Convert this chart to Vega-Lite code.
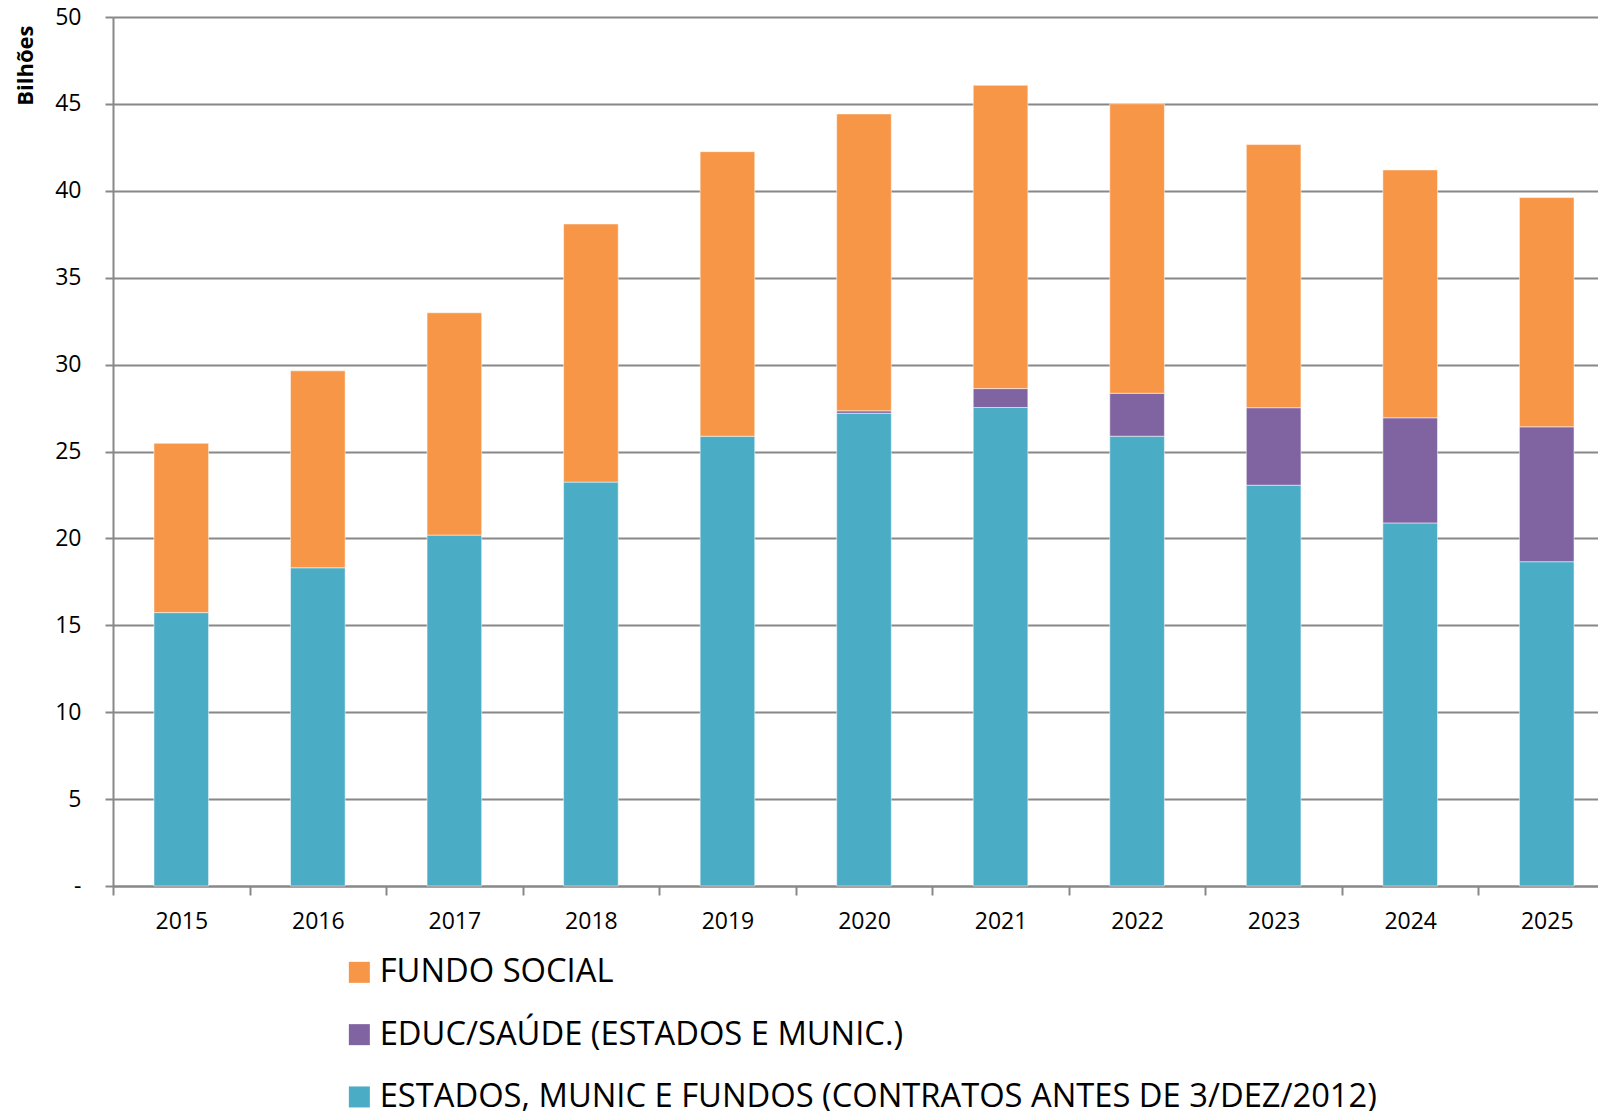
{
  "$schema": "https://vega.github.io/schema/vega-lite/v6.json",
  "autosize": "none",
  "padding": {"left": 113, "top": 17, "right": 0, "bottom": 225},
  "width": 1502,
  "height": 869,
  "background": "white",
  "config": {
    "font": "Open Sans",
    "view": {"stroke": null}
  },
  "data": {
    "values": [
      {"ano": "2015", "serie": "ESTADOS, MUNIC E FUNDOS (CONTRATOS ANTES DE 3/DEZ/2012)", "ord": 1, "valor": 15.73},
      {"ano": "2015", "serie": "FUNDO SOCIAL", "ord": 3, "valor": 9.74},
      {"ano": "2016", "serie": "ESTADOS, MUNIC E FUNDOS (CONTRATOS ANTES DE 3/DEZ/2012)", "ord": 1, "valor": 18.31},
      {"ano": "2016", "serie": "FUNDO SOCIAL", "ord": 3, "valor": 11.33},
      {"ano": "2017", "serie": "ESTADOS, MUNIC E FUNDOS (CONTRATOS ANTES DE 3/DEZ/2012)", "ord": 1, "valor": 20.19},
      {"ano": "2017", "serie": "FUNDO SOCIAL", "ord": 3, "valor": 12.79},
      {"ano": "2018", "serie": "ESTADOS, MUNIC E FUNDOS (CONTRATOS ANTES DE 3/DEZ/2012)", "ord": 1, "valor": 23.24},
      {"ano": "2018", "serie": "FUNDO SOCIAL", "ord": 3, "valor": 14.85},
      {"ano": "2019", "serie": "ESTADOS, MUNIC E FUNDOS (CONTRATOS ANTES DE 3/DEZ/2012)", "ord": 1, "valor": 25.88},
      {"ano": "2019", "serie": "FUNDO SOCIAL", "ord": 3, "valor": 16.37},
      {"ano": "2020", "serie": "ESTADOS, MUNIC E FUNDOS (CONTRATOS ANTES DE 3/DEZ/2012)", "ord": 1, "valor": 27.2},
      {"ano": "2020", "serie": "EDUC/SAÚDE (ESTADOS E MUNIC.)", "ord": 2, "valor": 0.14},
      {"ano": "2020", "serie": "FUNDO SOCIAL", "ord": 3, "valor": 17.08},
      {"ano": "2021", "serie": "ESTADOS, MUNIC E FUNDOS (CONTRATOS ANTES DE 3/DEZ/2012)", "ord": 1, "valor": 27.53},
      {"ano": "2021", "serie": "EDUC/SAÚDE (ESTADOS E MUNIC.)", "ord": 2, "valor": 1.09},
      {"ano": "2021", "serie": "FUNDO SOCIAL", "ord": 3, "valor": 17.45},
      {"ano": "2022", "serie": "ESTADOS, MUNIC E FUNDOS (CONTRATOS ANTES DE 3/DEZ/2012)", "ord": 1, "valor": 25.88},
      {"ano": "2022", "serie": "EDUC/SAÚDE (ESTADOS E MUNIC.)", "ord": 2, "valor": 2.47},
      {"ano": "2022", "serie": "FUNDO SOCIAL", "ord": 3, "valor": 16.66},
      {"ano": "2023", "serie": "ESTADOS, MUNIC E FUNDOS (CONTRATOS ANTES DE 3/DEZ/2012)", "ord": 1, "valor": 23.06},
      {"ano": "2023", "serie": "EDUC/SAÚDE (ESTADOS E MUNIC.)", "ord": 2, "valor": 4.46},
      {"ano": "2023", "serie": "FUNDO SOCIAL", "ord": 3, "valor": 15.14},
      {"ano": "2024", "serie": "ESTADOS, MUNIC E FUNDOS (CONTRATOS ANTES DE 3/DEZ/2012)", "ord": 1, "valor": 20.89},
      {"ano": "2024", "serie": "EDUC/SAÚDE (ESTADOS E MUNIC.)", "ord": 2, "valor": 6.05},
      {"ano": "2024", "serie": "FUNDO SOCIAL", "ord": 3, "valor": 14.26},
      {"ano": "2025", "serie": "ESTADOS, MUNIC E FUNDOS (CONTRATOS ANTES DE 3/DEZ/2012)", "ord": 1, "valor": 18.66},
      {"ano": "2025", "serie": "EDUC/SAÚDE (ESTADOS E MUNIC.)", "ord": 2, "valor": 7.76},
      {"ano": "2025", "serie": "FUNDO SOCIAL", "ord": 3, "valor": 13.19}
    ]
  },
  "mark": {"type": "bar", "stroke": "white", "strokeWidth": 1, "strokeOpacity": 0.5},
  "encoding": {
    "x": {
      "field": "ano",
      "type": "ordinal",
      "scale": {"paddingInner": 0.6, "paddingOuter": 0.3},
      "axis": {
        "title": null,
        "labelAngle": 0,
        "labelFontSize": 23,
        "labelColor": "black",
        "labelPadding": 15,
        "tickOffset": -68.27,
        "labelOffset": 68.27,
        "tickSize": 9,
        "tickColor": "#888888",
        "tickWidth": 2,
        "domainColor": "#888888",
        "domainWidth": 2,
        "grid": false
      }
    },
    "y": {
      "field": "valor",
      "type": "quantitative",
      "stack": "zero",
      "scale": {"domain": [0, 50], "nice": false},
      "axis": {
        "title": "Bilhões",
        "titleFontSize": 22,
        "titleFontWeight": "bold",
        "titleColor": "black",
        "titleAngle": -90,
        "titleAlign": "right",
        "titleBaseline": "middle",
        "titleX": -88,
        "titleY": 8,
        "values": [0, 5, 10, 15, 20, 25, 30, 35, 40, 45, 50],
        "labelExpr": "datum.value == 0 ? '-\u00a0\u00a0\u00a0\u00a0\u00a0' : datum.label",
        "labelFontSize": 23,
        "labelColor": "black",
        "labelPadding": 24,
        "tickSize": 8,
        "tickColor": "#888888",
        "tickWidth": 2,
        "domainColor": "#888888",
        "domainWidth": 2,
        "grid": true,
        "gridColor": "#888888",
        "gridWidth": 2
      }
    },
    "color": {
      "field": "serie",
      "type": "nominal",
      "scale": {
        "domain": ["FUNDO SOCIAL", "EDUC/SAÚDE (ESTADOS E MUNIC.)", "ESTADOS, MUNIC E FUNDOS (CONTRATOS ANTES DE 3/DEZ/2012)"],
        "range": ["#F79646", "#8064A2", "#4BACC6"]
      },
      "legend": {
        "title": null,
        "orient": "none",
        "legendX": 230,
        "legendY": 939,
        "direction": "vertical",
        "symbolType": "square",
        "symbolSize": 441,
        "symbolStrokeWidth": 0,
        "symbolOpacity": 1,
        "labelFontSize": 32.7,
        "labelColor": "black",
        "labelOffset": 4,
        "labelLimit": 1500,
        "rowPadding": 28.3,
        "padding": 0
      }
    },
    "order": {"field": "ord", "type": "quantitative", "sort": "ascending"}
  }
}
